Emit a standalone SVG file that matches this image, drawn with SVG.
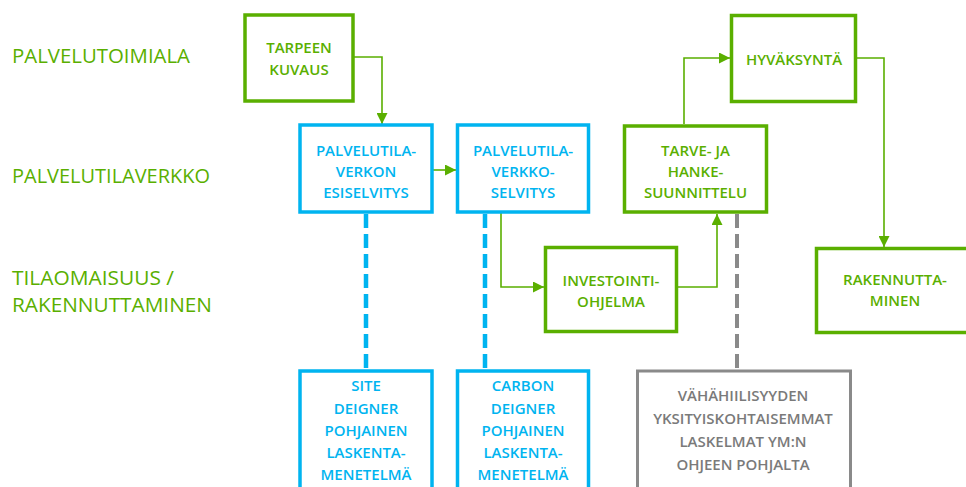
<svg xmlns="http://www.w3.org/2000/svg" width="966" height="487" viewBox="0 0 966 487">
<style>
text{font-family:"Open Sans","Liberation Sans",Arial,sans-serif;text-anchor:middle;font-size:15px;font-weight:600}
.lane{fill:#5AAF00;font-size:20px;font-weight:400;text-anchor:start}
.g rect{fill:#fff;stroke:#5AAF00;stroke-width:3.5}
.g text{fill:#5AAF00}
.b rect{fill:#fff;stroke:#00B4F0;stroke-width:3.5}
.b text{fill:#00B4F0}
.y rect{fill:#fff;stroke:#8A8A8A;stroke-width:3}
.y text{fill:#7A7A7A}
.c{fill:none;stroke:#5AAF00;stroke-width:1.6}
.db{fill:none;stroke:#00B4F0;stroke-width:4.5;stroke-dasharray:14 6}
.dg{fill:none;stroke:#8A8A8A;stroke-width:4;stroke-dasharray:14 6}
</style>
<defs>
<marker id="ah" markerUnits="userSpaceOnUse" markerWidth="11" markerHeight="11" refX="11" refY="5.5" orient="auto">
<path d="M0,0 L11,5.5 L0,11 z" fill="#5AAF00"/>
</marker>
</defs>
<rect width="966" height="487" fill="#fff"/>
<g id="lanes">
<text class="lane" x="12" y="63" textLength="178" lengthAdjust="spacingAndGlyphs">PALVELUTOIMIALA</text>
<text class="lane" x="12" y="183" textLength="198" lengthAdjust="spacingAndGlyphs">PALVELUTILAVERKKO</text>
<text class="lane" x="12" y="285" textLength="162" lengthAdjust="spacingAndGlyphs">TILAOMAISUUS /</text>
<text class="lane" x="12" y="312" textLength="200" lengthAdjust="spacingAndGlyphs">RAKENNUTTAMINEN</text>
</g>
<g id="connectors">
<path class="c" d="M354,57 H382 V124" marker-end="url(#ah)"/>
<path class="c" d="M433,170 H456" marker-end="url(#ah)"/>
<path class="c" d="M501,213 V287 H544" marker-end="url(#ah)"/>
<path class="c" d="M678,287 H717 V214" marker-end="url(#ah)"/>
<path class="c" d="M684,124 V58 H730" marker-end="url(#ah)"/>
<path class="c" d="M857,58 H884 V247" marker-end="url(#ah)"/>
<path class="db" d="M366,214 V370"/>
<path class="db" d="M485,214 V370"/>
<path class="dg" d="M737,214 V370"/>
</g>
<g id="tarpeen" class="g">
<rect x="245" y="15" width="108" height="86"/>
<text x="299" y="53">TARPEEN</text>
<text x="299" y="75">KUVAUS</text>
</g>
<g id="esiselvitys" class="b">
<rect x="300" y="125" width="132" height="87"/>
<text x="366" y="156">PALVELUTILA-</text>
<text x="366" y="177">VERKON</text>
<text x="366" y="198">ESISELVITYS</text>
</g>
<g id="selvitys" class="b">
<rect x="457.5" y="125" width="131" height="87"/>
<text x="523" y="156">PALVELUTILA-</text>
<text x="523" y="177">VERKKO-</text>
<text x="523" y="198">SELVITYS</text>
</g>
<g id="tarve" class="g">
<rect x="624.5" y="126" width="142" height="86"/>
<text x="695.5" y="156">TARVE- JA</text>
<text x="695.5" y="177">HANKE-</text>
<text x="695.5" y="198">SUUNNITTELU</text>
</g>
<g id="investointi" class="g">
<rect x="545.5" y="247.5" width="131" height="84"/>
<text x="611" y="286">INVESTOINTI-</text>
<text x="611" y="307">OHJELMA</text>
</g>
<g id="hyvaksynta" class="g">
<rect x="731.5" y="15.5" width="124" height="86"/>
<text x="794" y="65">HYVÄKSYNTÄ</text>
</g>
<g id="rakennuttaminen" class="g">
<rect x="816.5" y="248.5" width="160" height="84"/>
<text x="895" y="285">RAKENNUTTA-</text>
<text x="895" y="306">MINEN</text>
</g>
<g id="site" class="b">
<rect x="300" y="371" width="132" height="130"/>
<text x="366" y="391">SITE</text>
<text x="366" y="414">DEIGNER</text>
<text x="366" y="436">POHJAINEN</text>
<text x="366" y="458">LASKENTA-</text>
<text x="366" y="480">MENETELMÄ</text>
</g>
<g id="carbon" class="b">
<rect x="457.5" y="371" width="131" height="130"/>
<text x="523" y="391">CARBON</text>
<text x="523" y="414">DEIGNER</text>
<text x="523" y="436">POHJAINEN</text>
<text x="523" y="458">LASKENTA-</text>
<text x="523" y="480">MENETELMÄ</text>
</g>
<g id="ym" class="y">
<rect x="637.5" y="371" width="213" height="130"/>
<text x="743" y="401">VÄHÄHIILISYYDEN</text>
<text x="743" y="424">YKSITYISKOHTAISEMMAT</text>
<text x="743" y="447">LASKELMAT YM:N</text>
<text x="743" y="470">OHJEEN POHJALTA</text>
</g>
</svg>
